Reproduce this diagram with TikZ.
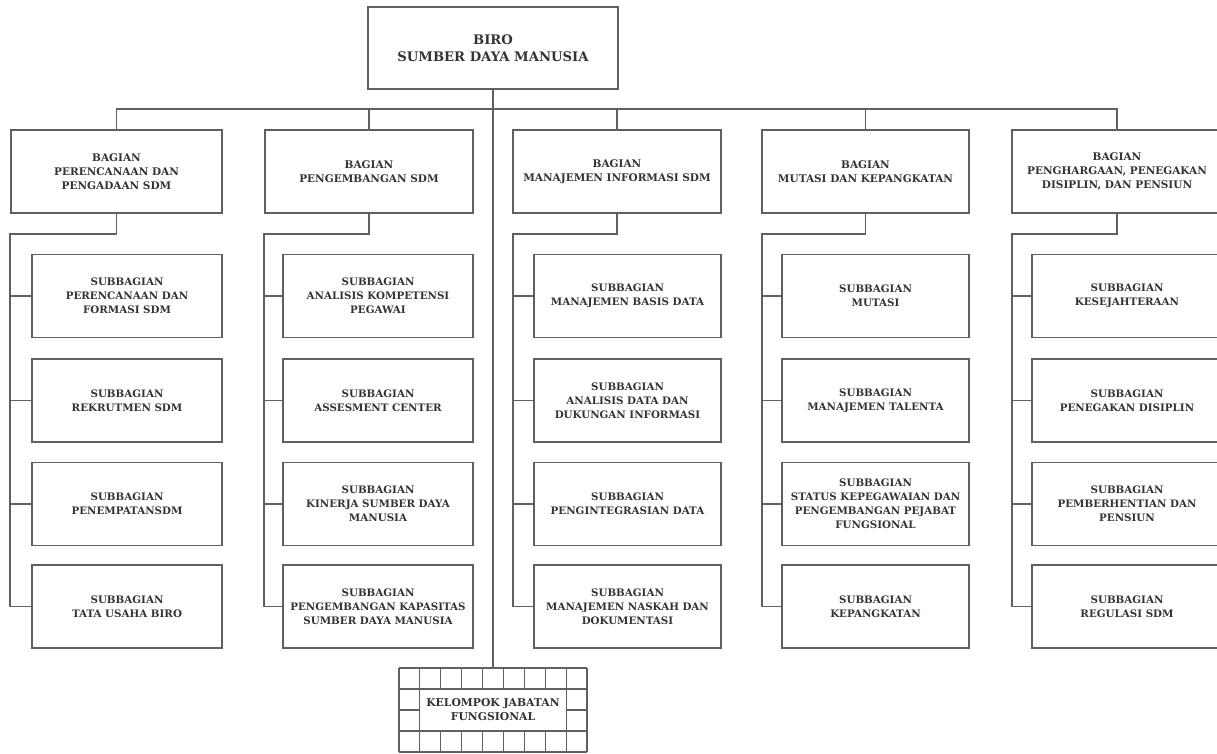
\documentclass[tikz,border=0pt]{standalone}
\usepackage{fontspec}
\setmainfont{DejaVu Serif}
\definecolor{linegray}{HTML}{606060}
\definecolor{inkgray}{HTML}{333333}
\tikzset{
  unit/.style={draw=linegray, line width=1.25pt, inner sep=0pt, outer sep=0pt,
    align=center, text=inkgray},
  topbox/.style={unit, minimum width=250pt, minimum height=82pt,
    font=\bfseries\fontsize{13.2}{17}\selectfont},
  headbox/.style={unit, minimum height=83pt,
    font=\bfseries\fontsize{10.5}{14}\selectfont},
  subbox/.style={unit, minimum height=83pt,
    font=\bfseries\fontsize{10.3}{14}\selectfont},
  link/.style={draw=linegray, line width=1.25pt},
}
\begin{document}
\begin{tikzpicture}[x=1pt, y=-1pt]
\useasboundingbox (0,0) rectangle (1217,753);
\clip (0,0) rectangle (1217,753);

% head of the bureau
\node[topbox] (biro) at (493,48) {BIRO\\SUMBER DAYA MANUSIA};

% the five divisions
\node[headbox, minimum width=211pt] (h1) at (116.5,171.5) {BAGIAN\\PERENCANAAN DAN\\PENGADAAN SDM};
\node[headbox, minimum width=208pt] (h2) at (369,171.5) {BAGIAN\\PENGEMBANGAN SDM};
\node[headbox, minimum width=208pt] (h3) at (617,171.5) {BAGIAN\\MANAJEMEN INFORMASI SDM};
\node[headbox, minimum width=207pt] (h4) at (865.5,171.5) {BAGIAN\\MUTASI DAN KEPANGKATAN};
\node[headbox, minimum width=210pt] (h5) at (1117,171.5) {BAGIAN\\PENGHARGAAN, PENEGAKAN\\DISIPLIN, DAN PENSIUN};

% subdivisions, four per division
\foreach \c/\cx/\w/\ta/\tb/\tc/\td in {
  1/127/190/{SUBBAGIAN\\PERENCANAAN DAN\\FORMASI SDM}/{SUBBAGIAN\\REKRUTMEN SDM}/{SUBBAGIAN\\PENEMPATANSDM}/{SUBBAGIAN\\TATA USAHA BIRO},
  2/378/190/{SUBBAGIAN\\ANALISIS KOMPETENSI\\PEGAWAI}/{SUBBAGIAN\\ASSESMENT CENTER}/{SUBBAGIAN\\KINERJA SUMBER DAYA\\MANUSIA}/{SUBBAGIAN\\PENGEMBANGAN KAPASITAS\\SUMBER DAYA MANUSIA},
  3/627.5/187/{SUBBAGIAN\\MANAJEMEN BASIS DATA}/{SUBBAGIAN\\ANALISIS DATA DAN\\DUKUNGAN INFORMASI}/{SUBBAGIAN\\PENGINTEGRASIAN DATA}/{SUBBAGIAN\\MANAJEMEN NASKAH DAN\\DOKUMENTASI},
  4/875.5/187/{SUBBAGIAN\\MUTASI}/{SUBBAGIAN\\MANAJEMEN TALENTA}/{SUBBAGIAN\\STATUS KEPEGAWAIAN DAN\\PENGEMBANGAN PEJABAT\\FUNGSIONAL}/{SUBBAGIAN\\KEPANGKATAN},
  5/1127/190/{SUBBAGIAN\\KESEJAHTERAAN}/{SUBBAGIAN\\PENEGAKAN DISIPLIN}/{SUBBAGIAN\\PEMBERHENTIAN DAN\\PENSIUN}/{SUBBAGIAN\\REGULASI SDM}}
{
  \node[subbox, minimum width=\w pt] (s\c-1) at (\cx,296) {\ta};
  \node[subbox, minimum width=\w pt] (s\c-2) at (\cx,400.5) {\tb};
  \node[subbox, minimum width=\w pt] (s\c-3) at (\cx,504) {\tc};
  \node[subbox, minimum width=\w pt] (s\c-4) at (\cx,606.5) {\td};
}

% functional positions group: a grid frame around the label
\begin{scope}[draw=linegray, line width=1.1pt]
  \foreach \i in {0,...,9} \draw (399+\i*20.89,668) -- (399+\i*20.89,752);
  \foreach \j in {0,...,4} \draw (399,668+\j*21) -- (587,668+\j*21);
\end{scope}
\node[unit, minimum width=188pt, minimum height=84pt, draw=none] (kjf) at (493,710) {};
\node[unit, fill=white, line width=1.1pt, minimum width=146.2pt, minimum height=42pt,
  font=\bfseries\fontsize{10.8}{14}\selectfont] (kjftext) at (493,710) {KELOMPOK JABATAN\\FUNGSIONAL};

% bus from the head down to every division
\coordinate (bus) at (493,109);
\draw[link] (biro.south) -- (kjf.north);
\draw[link] (h1.north) -- (h1.north |- bus) -| (h5.north);
\foreach \c in {2,3,4} \draw[link] (h\c.north) -- (h\c.north |- bus);

% brackets from each division to its subdivisions
\foreach \c/\bx in {1/10, 2/264, 3/513, 4/762, 5/1012} {
  \coordinate (k\c) at (\bx,234);
  \draw[link] (h\c.south) |- (k\c) |- (s\c-4.west);
  \foreach \r in {1,2,3} \draw[link] (k\c |- s\c-\r.west) -- (s\c-\r.west);
}
\end{tikzpicture}
\end{document}
